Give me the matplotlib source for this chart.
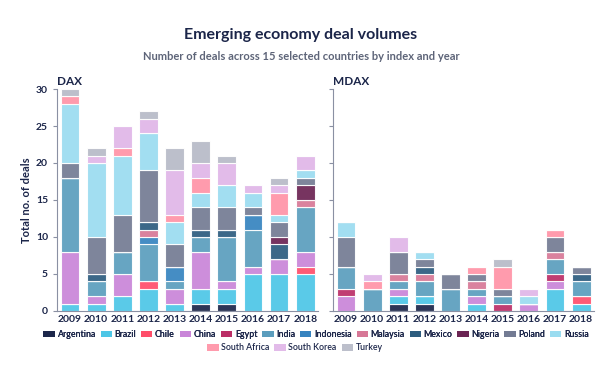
import matplotlib
matplotlib.use("Agg")
import matplotlib.pyplot as plt
import numpy as np
from matplotlib.patches import Patch

plt.rcParams['font.family'] = ['Lato', 'DejaVu Sans']

years = ['2009', '2010', '2011', '2012', '2013', '2014', '2015', '2016', '2017', '2018']
countries = ['Argentina', 'Brazil', 'Chile', 'China', 'Egypt', 'India', 'Indonesia',
             'Malaysia', 'Mexico', 'Nigeria', 'Poland', 'Russia', 'South Africa',
             'South Korea', 'Turkey']
colors = ['#1b2549', '#4cc6e6', '#ff4d6a', '#c985d8', '#bb2d66', '#5a9dbd', '#3583bf',
          '#d77796', '#2b5b7e', '#6b2352', '#737b93', '#9adcf0', '#ff93a6',
          '#e0b6e8', '#b7bac7']

# DAX deals per country (cols = years 2009..2018)
dax_argentina   = [0, 0, 0, 0, 0, 1, 1, 0, 0, 0]
dax_brazil      = [1, 1, 2, 3, 1, 2, 2, 5, 5, 5]
dax_chile       = [0, 0, 0, 1, 0, 0, 0, 0, 0, 1]
dax_china       = [7, 1, 3, 0, 2, 5, 1, 1, 2, 2]
dax_egypt       = [0, 0, 0, 0, 0, 0, 0, 0, 0, 0]
dax_india       = [10, 2, 3, 5, 1, 2, 6, 5, 0, 6]
dax_indonesia   = [0, 0, 0, 1, 2, 0, 0, 2, 0, 0]
dax_malaysia    = [0, 0, 0, 1, 0, 0, 0, 0, 0, 1]
dax_mexico      = [0, 1, 0, 1, 0, 1, 1, 0, 2, 0]
dax_nigeria     = [0, 0, 0, 0, 0, 0, 0, 0, 1, 2]
dax_poland      = [2, 5, 5, 7, 3, 3, 3, 1, 2, 1]
dax_russia      = [8, 10, 8, 5, 3, 2, 3, 2, 1, 1]
dax_southafrica = [1, 0, 1, 0, 1, 2, 0, 0, 3, 0]
dax_southkorea  = [0, 1, 3, 2, 6, 2, 3, 1, 1, 2]
dax_turkey      = [1, 1, 0, 1, 3, 3, 1, 0, 1, 0]

# MDAX deals per country
mdax_argentina   = [0, 0, 1, 1, 0, 0, 0, 0, 0, 0]
mdax_brazil      = [0, 0, 1, 1, 0, 1, 0, 0, 3, 1]
mdax_chile       = [0, 0, 0, 0, 0, 0, 0, 0, 0, 1]
mdax_china       = [2, 0, 1, 0, 0, 1, 0, 1, 1, 0]
mdax_egypt       = [1, 0, 0, 0, 0, 0, 1, 0, 1, 0]
mdax_india       = [3, 3, 1, 2, 3, 1, 1, 0, 2, 2]
mdax_indonesia   = [0, 0, 0, 0, 0, 0, 0, 0, 0, 0]
mdax_malaysia    = [0, 0, 1, 1, 0, 1, 0, 0, 1, 0]
mdax_mexico      = [0, 0, 0, 1, 0, 0, 0, 0, 0, 1]
mdax_nigeria     = [0, 0, 0, 0, 0, 0, 0, 0, 0, 0]
mdax_poland      = [4, 0, 3, 1, 2, 1, 1, 0, 2, 1]
mdax_russia      = [2, 0, 0, 1, 0, 0, 0, 1, 0, 0]
mdax_southafrica = [0, 1, 0, 0, 0, 1, 3, 0, 1, 0]
mdax_southkorea  = [0, 1, 2, 0, 0, 0, 0, 1, 0, 0]
mdax_turkey      = [0, 0, 0, 0, 0, 0, 1, 0, 0, 0]

dax = [dax_argentina, dax_brazil, dax_chile, dax_china, dax_egypt, dax_india,
       dax_indonesia, dax_malaysia, dax_mexico, dax_nigeria, dax_poland, dax_russia,
       dax_southafrica, dax_southkorea, dax_turkey]
mdax = [mdax_argentina, mdax_brazil, mdax_chile, mdax_china, mdax_egypt, mdax_india,
        mdax_indonesia, mdax_malaysia, mdax_mexico, mdax_nigeria, mdax_poland, mdax_russia,
        mdax_southafrica, mdax_southkorea, mdax_turkey]

navy = '#1b2549'
axis_col = '#8a90a3'

fig = plt.figure(figsize=(6.02, 3.71), dpi=100)
ax1 = fig.add_axes([0.0947, 0.162, 0.434, 0.598])
ax2 = fig.add_axes([0.553, 0.162, 0.434, 0.598])

x = np.arange(len(years))
for ax, data, label in [(ax1, dax, 'DAX'), (ax2, mdax, 'MDAX')]:
    bottom = np.zeros(len(years))
    for vals, c in zip(data, colors):
        v = np.array(vals, dtype=float)
        ax.bar(x, v, bottom=bottom, width=0.72, color=c, edgecolor='white',
               linewidth=0.8, alpha=0.92)
        bottom += v
    ax.set_ylim(0, 30)
    ax.set_xlim(-0.5, 9.5)
    ax.set_xticks(x)
    ax.set_xticklabels(years, fontsize=7.5, fontweight='bold', color=navy)
    ax.set_yticks(np.arange(0, 31, 5))
    ax.spines['top'].set_visible(False)
    ax.spines['right'].set_visible(False)
    ax.spines['left'].set_color(axis_col)
    ax.spines['bottom'].set_color(axis_col)
    ax.tick_params(axis='x', length=0, pad=3)
    ax.tick_params(axis='y', length=3, color=axis_col, labelsize=7.5, labelcolor=navy)
    ax.text(0.0, 1.01, label, transform=ax.transAxes, fontsize=8.5,
            fontweight='bold', color=navy, ha='left', va='bottom')

for t in ax1.get_yticklabels():
    t.set_fontweight('bold')
ax2.set_yticklabels([])
ax1.set_ylabel('Total no. of deals', fontsize=8, fontweight='bold', color=navy, labelpad=3)

fig.text(0.5, 0.905, 'Emerging economy deal volumes', ha='center', va='center',
         fontsize=11.5, fontweight='bold', color=navy)
fig.text(0.5, 0.848, 'Number of deals across 15 selected countries by index and year',
         ha='center', va='center', fontsize=8, fontweight='bold', color='#5d6478')

handles = [Patch(facecolor=c, edgecolor='none', alpha=0.92) for c in colors]
leg_kw = dict(frameon=False, handlelength=1.3, handleheight=0.75,
              handletextpad=0.3, columnspacing=0.55, borderpad=0,
              prop={'size': 6.3, 'weight': 'semibold'})
leg1 = fig.legend(handles[:12], countries[:12], loc='center', bbox_to_anchor=(0.525, 0.098),
                  ncol=12, **leg_kw)
for t in leg1.get_texts():
    t.set_color(navy)
leg2 = fig.legend(handles[12:], countries[12:], loc='center', bbox_to_anchor=(0.49, 0.062),
                  ncol=3, **leg_kw)
for t in leg2.get_texts():
    t.set_color(navy)
fig.add_artist(leg1)

fig.savefig('out.png', dpi=100)
